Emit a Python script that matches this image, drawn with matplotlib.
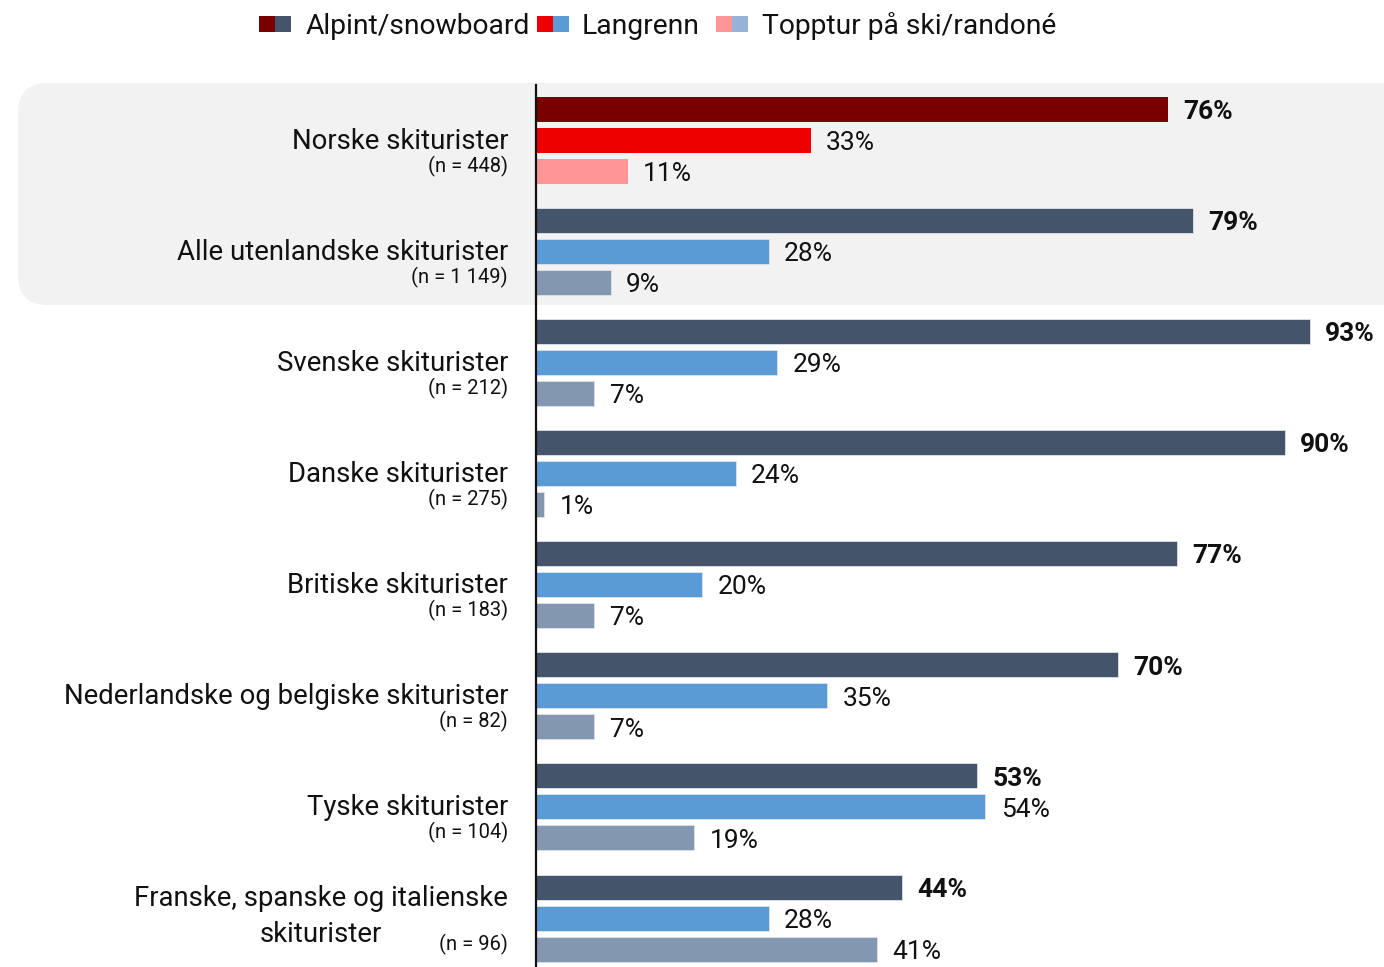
import matplotlib
matplotlib.use("Agg")
import matplotlib.pyplot as plt
from matplotlib.patches import FancyBboxPatch, Rectangle
from matplotlib.transforms import blended_transform_factory, IdentityTransform

plt.rcParams['font.family'] = ['Roboto', 'DejaVu Sans']

categories = ["Norske skiturister", "Alle utenlandske skiturister", "Svenske skiturister",
              "Danske skiturister", "Britiske skiturister",
              "Nederlandske og belgiske skiturister", "Tyske skiturister",
              "Franske, spanske og italienske\nskiturister"]
n_labels = ["(n = 448)", "(n = 1 149)", "(n = 212)", "(n = 275)", "(n = 183)",
            "(n = 82)", "(n = 104)", "(n = 96)"]
series_names = ["Alpint/snowboard", "Langrenn", "Topptur på ski/randoné"]
alpint = [76, 79, 93, 90, 77, 70, 53, 44]
langrenn = [33, 28, 29, 24, 20, 35, 54, 28]
topptur = [11, 9, 7, 1, 7, 7, 19, 41]

red_cols = ["#780000", "#ee0000", "#ff9696"]
blue_cols = ["#44546a", "#5b9bd5", "#8497b0"]
legend_light = ["#ff9696", "#95b3d7"]

W, H = 1384, 967
fig = plt.figure(figsize=(W / 100, H / 100), dpi=100)

# background highlight box (pixel coords)
bg = FancyBboxPatch((18, H - 305), 1420, 222,
                    boxstyle="round,pad=0,rounding_size=30",
                    transform=IdentityTransform(), facecolor="#f2f2f2",
                    edgecolor="none", zorder=0)
fig.add_artist(bg)

ax = fig.add_axes([536 / W, 0, 1 - 536 / W, 1 - 85 / H])
ax.patch.set_alpha(0)
ax.set_zorder(1)

offs = [-0.279, 0.0, 0.279]
bh = 0.225
data = [alpint, langrenn, topptur]
for i in range(len(categories)):
    cols = red_cols if i == 0 else blue_cols
    for s in range(3):
        v = data[s][i]
        y = i + offs[s]
        ax.barh(y, v, height=bh, color=cols[s], edgecolor="#dde3ea" if i > 0 else "none",
                linewidth=0.6, zorder=2)
        ax.annotate(f"{v}%", (v, y), xytext=(11, -2), textcoords="offset points",
                    ha="left", va="center", fontsize=19, color="#111111",
                    fontweight="bold" if s == 0 else "normal")

ax.set_xlim(0, (W - 536) / 8.32)
ax.set_ylim(7.44, -0.495)
for sp in ["top", "right", "bottom"]:
    ax.spines[sp].set_visible(False)
ax.spines["left"].set_linewidth(1.6)
ax.spines["left"].set_color("#111111")
ax.set_xticks([])
ax.set_yticks([])

tr = blended_transform_factory(fig.transFigure, ax.transData)
px = 1 / 111.14
fig.canvas.draw()
renderer = fig.canvas.get_renderer()
for i, (c, n) in enumerate(zip(categories, n_labels)):
    if "\n" in c:
        l1, l2 = c.split("\n")
        t1 = ax.text(508 / W, i - 20 * px, l1, transform=tr, ha="right", va="center",
                     fontsize=19.8, color="#111111")
        bb = t1.get_window_extent(renderer=renderer)
        cx = (bb.x0 + bb.x1) / 2 / W
        ax.text(cx, i + 16 * px, l2, transform=tr, ha="center", va="center",
                fontsize=19.8, color="#111111")
    else:
        ax.text(508 / W, i + 1 * px, c, transform=tr, ha="right", va="center",
                fontsize=19.8, color="#111111")
    ax.text(508 / W, i + 26 * px, n, transform=tr, ha="right", va="center",
            fontsize=14.5, color="#111111")

# legend
leg_x = [259, 537, 716]
txt_x = [306, 582, 762]
leg_cols = [(red_cols[0], blue_cols[0]), (red_cols[1], blue_cols[1]),
            (legend_light[0], legend_light[1])]
for lx, tx, (c1, c2), name in zip(leg_x, txt_x, leg_cols, series_names):
    fig.add_artist(Rectangle((lx, H - 32), 16, 16, transform=IdentityTransform(),
                             facecolor=c1, edgecolor="none"))
    fig.add_artist(Rectangle((lx + 16, H - 32), 16, 16, transform=IdentityTransform(),
                             facecolor=c2, edgecolor="none"))
    fig.text(tx / W, 1 - 26 / H, name, ha="left", va="center", fontsize=20.3,
             color="#111111")

fig.savefig("out.png", dpi=100)
